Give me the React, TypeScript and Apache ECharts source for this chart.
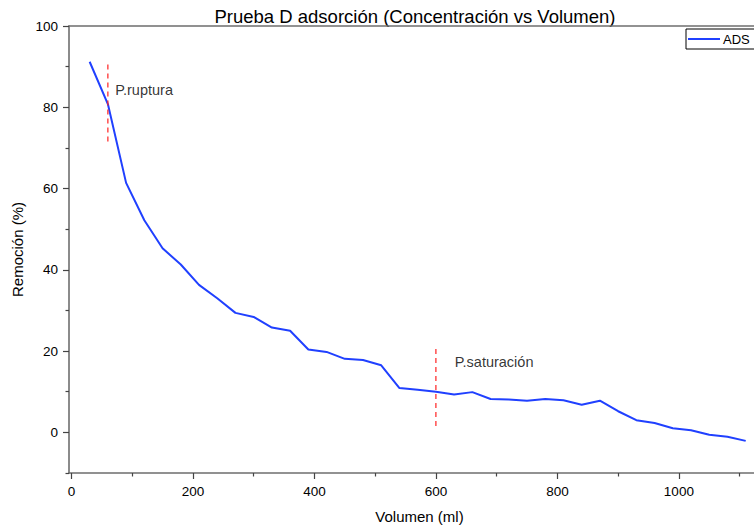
import React, { useEffect, useRef } from 'react';
import * as echarts from 'echarts';

// Volume passed through the column (ml) and removal achieved (%)
const volumen = [
  30, 60, 90, 120, 150, 180, 210, 240, 270, 300, 330, 360, 390, 420, 450, 480, 510, 540, 570,
  600, 630, 660, 690, 720, 750, 780, 810, 840, 870, 900, 930, 960, 990, 1020, 1050, 1080, 1110,
];
const remocion = [
  91.2, 80.8, 61.4, 52.2, 45.3, 41.3, 36.3, 33.0, 29.4, 28.4, 25.8, 25.0, 20.4, 19.8, 18.1, 17.8,
  16.5, 10.9, 10.5, 10.0, 9.3, 9.9, 8.2, 8.1, 7.8, 8.2, 7.9, 6.8, 7.8, 5.2, 3.0, 2.3, 1.0, 0.5,
  -0.6, -1.1, -2.1,
];

// Tick positions
const majorX = [0, 200, 400, 600, 800, 1000];
const minorX = [100, 300, 500, 700, 900, 1100];
const majorY = [0, 20, 40, 60, 80, 100];
const minorY = [-10, 10, 30, 50, 70, 90];

// Breakthrough and saturation markers
const rupturaLine = [[60, 90.5], [60, 71]];
const saturacionLine = [[600, 20.5], [600, 0.7]];
const marcadores = [
  { name: 'P.ruptura', value: [72, 84.3] },
  { name: 'P.saturación', value: [631, 17.2] },
];

const FONT = 'Liberation Sans, Arial, sans-serif';
const AXIS_COLOR = '#6e6e6e';
const TICK_COLOR = '#444';
const BLUE = '#2040ff';

export default function App() {
  const ref = useRef<HTMLDivElement>(null);

  useEffect(() => {
    if (!ref.current) return;
    const chart = echarts.init(ref.current, null, { renderer: 'svg' });

    const baseX = { type: 'value', min: -4, max: 1150, gridIndex: 0 } as any;
    const baseY = { type: 'value', min: -10, max: 100, gridIndex: 0 } as any;

    chart.setOption({
      animation: false,
      backgroundColor: '#fff',
      textStyle: { fontFamily: FONT, color: '#000' },
      graphic: [
        {
          type: 'text',
          x: 415,
          y: 16,
          style: {
            text: 'Prueba D adsorción (Concentración vs Volumen)',
            fontFamily: FONT,
            fontSize: 18.5,
            fill: '#000',
            align: 'center',
            verticalAlign: 'middle',
          },
        },
      ],
      legend: {
        data: [{ name: 'ADS', icon: 'rect' }],
        left: 686,
        top: 29,
        orient: 'vertical',
        padding: [3, 8, 3, 2],
        itemWidth: 32,
        itemHeight: 2,
        itemGap: 0,
        borderColor: '#000',
        borderWidth: 1,
        borderRadius: 0,
        textStyle: {
          fontFamily: FONT,
          fontSize: 13,
          color: '#000',
          lineHeight: 14,
          padding: [0, 0, 0, -2],
        },
      },
      grid: { left: 69, right: 10, top: 26, bottom: 55, containLabel: false },
      xAxis: [
        {
          ...baseX,
          position: 'bottom',
          name: 'Volumen (ml)',
          nameLocation: 'middle',
          nameGap: 36,
          nameTextStyle: { fontFamily: FONT, fontSize: 15, color: '#000' },
          splitLine: { show: false },
          axisLine: { show: true, onZero: false, lineStyle: { color: AXIS_COLOR, width: 1.6 } },
          axisTick: { show: true, customValues: majorX, length: 6, lineStyle: { color: TICK_COLOR, width: 1.2 } },
          axisLabel: {
            customValues: majorX,
            margin: 11,
            fontFamily: FONT,
            fontSize: 13.5,
            color: '#000',
            formatter: (v: number) => String(v),
          },
        },
        {
          ...baseX,
          position: 'bottom',
          splitLine: { show: false },
          axisLine: { show: false, onZero: false },
          axisTick: { show: true, customValues: minorX, length: 3.5, lineStyle: { color: TICK_COLOR, width: 1.2 } },
          axisLabel: { show: false },
        },
        {
          ...baseX,
          position: 'top',
          splitLine: { show: false },
          axisLine: { show: true, onZero: false, lineStyle: { color: AXIS_COLOR, width: 1.6 } },
          axisTick: { show: false },
          axisLabel: { show: false },
        },
      ],
      yAxis: [
        {
          ...baseY,
          position: 'left',
          name: 'Remoción (%)',
          nameLocation: 'middle',
          nameGap: 44,
          nameTextStyle: { fontFamily: FONT, fontSize: 15, color: '#000' },
          splitLine: { show: false },
          axisLine: { show: true, onZero: false, lineStyle: { color: AXIS_COLOR, width: 1.6 } },
          axisTick: { show: true, customValues: majorY, length: 6, lineStyle: { color: TICK_COLOR, width: 1.2 } },
          axisLabel: {
            customValues: majorY,
            margin: 11,
            fontFamily: FONT,
            fontSize: 13.5,
            color: '#000',
            formatter: (v: number) => String(v),
          },
        },
        {
          ...baseY,
          position: 'left',
          splitLine: { show: false },
          axisLine: { show: false, onZero: false },
          axisTick: { show: true, customValues: minorY, length: 3.5, lineStyle: { color: TICK_COLOR, width: 1.2 } },
          axisLabel: { show: false },
        },
      ],
      series: [
        {
          name: 'ADS',
          type: 'line',
          xAxisIndex: 0,
          yAxisIndex: 0,
          data: volumen.map((v, i) => [v, remocion[i]]),
          symbol: 'none',
          lineStyle: { color: BLUE, width: 2 },
          itemStyle: { color: BLUE },
          z: 3,
        },
        {
          name: 'ruptura',
          type: 'line',
          xAxisIndex: 0,
          yAxisIndex: 0,
          data: rupturaLine,
          symbol: 'none',
          lineStyle: { color: '#ff2020', width: 1.2, type: [5, 4] },
          z: 4,
        },
        {
          name: 'saturacion',
          type: 'line',
          xAxisIndex: 0,
          yAxisIndex: 0,
          data: saturacionLine,
          symbol: 'none',
          lineStyle: { color: '#ff2020', width: 1.2, type: [5, 4] },
          z: 4,
        },
        {
          name: 'marcadores',
          type: 'scatter',
          xAxisIndex: 0,
          yAxisIndex: 0,
          symbolSize: 0,
          data: marcadores,
          label: {
            show: true,
            position: 'right',
            distance: 0,
            formatter: (p: any) => p.name,
            fontFamily: FONT,
            fontSize: 14.5,
            color: '#000',
          },
          silent: true,
        },
      ],
    });

    return () => chart.dispose();
  }, []);

  return (
    <div
      style={{
        position: 'fixed',
        left: 0,
        top: 0,
        width: 754,
        height: 529,
        overflow: 'hidden',
        background: '#fff',
      }}
    >
      <div ref={ref} style={{ width: 780, height: 529 }} />
    </div>
  );
}
